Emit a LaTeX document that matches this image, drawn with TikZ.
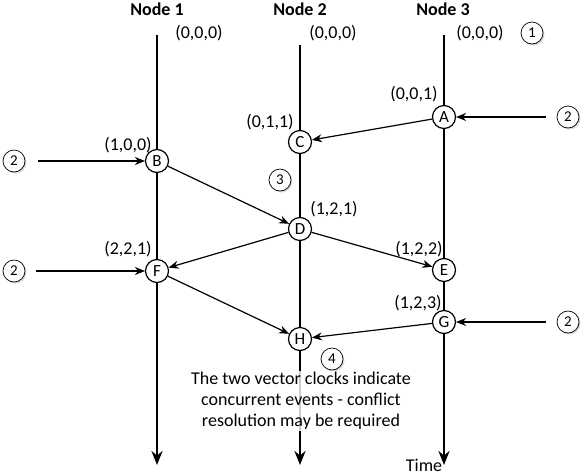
\documentclass[tikz,border=0pt]{standalone}
\usepackage{fontspec}
\setmainfont{Carlito}
\usetikzlibrary{arrows.meta,shadows}
\begin{document}
\begin{tikzpicture}[x=1pt,y=-1pt,
  timeline/.style={line width=2.6pt,-{Stealth[length=14pt,width=11pt]}},
  msg/.style={line width=1.2pt,-{Stealth[length=10pt,width=8pt]}},
  ev/.style={circle,draw,line width=1.2pt,fill=white,minimum size=23pt,inner sep=0pt,font=\fontsize{17}{19}\selectfont},
  num/.style={circle,draw,line width=0.7pt,fill=white,minimum size=22pt,inner sep=0pt,font=\fontsize{15}{17}\selectfont,drop shadow={shadow xshift=1.5pt,shadow yshift=-1.5pt,opacity=0.3}},
  lbl/.style={font=\fontsize{18}{20}\selectfont,inner sep=1pt},
  title/.style={font=\bfseries\fontsize{18}{20}\selectfont}]
\useasboundingbox (0,0) rectangle (587,475);
\fill[white] (0,0) rectangle (587,475);
% titles
\node[title] (t1) at (157,9) {Node 1};
\node[title] (t2) at (300,9) {Node 2};
\node[title] (t3) at (443,9) {Node 3};
% timeline coordinates
\coordinate (s1) at (157,35);
\coordinate (e1) at (157,465);
\coordinate (s2) at (300,45);
\coordinate (e2) at (300,465);
\coordinate (s3) at (444,35);
\coordinate (e3) at (444,465);
\draw[timeline] (s1) -- (e1);
\draw[timeline] (s2) -- (e2);
\draw[timeline] (s3) -- (e3);
% events
\node[ev] (A) at (444,117) {A};
\node[ev] (B) at (157,161) {B};
\node[ev] (C) at (300,142) {C};
\node[ev] (D) at (300,229) {D};
\node[ev] (E) at (444,270) {E};
\node[ev] (F) at (157,271) {F};
\node[ev] (G) at (444,322) {G};
\node[ev] (H) at (300,339) {H};
% external inputs
\node[num] (n2a) at (568,117) {2};
\node[num] (n2b) at (14,161) {2};
\node[num] (n2c) at (14,271) {2};
\node[num] (n2d) at (568,322) {2};
\node[num] (n1) at (532,33) {1};
\node[num] (n3) at (280,180) {3};
\node[num] (n4) at (332,359) {4};
\coordinate (iA) at (546,117);
\coordinate (iB) at (38,161);
\coordinate (iF) at (36,271);
\coordinate (iG) at (546,322);
\draw[msg] (iA) -- (A);
\draw[msg] (iB) -- (B);
\draw[msg] (iF) -- (F);
\draw[msg] (iG) -- (G);
% messages
\draw[msg] (A) -- (C);
\draw[msg] (B) -- (D);
\draw[msg] (D) -- (E);
\draw[msg] (D) -- (F);
\draw[msg] (F) -- (H);
\draw[msg] (G) -- (H);
% labels
\node[lbl] (l01) at (199,33) {(0,0,0)};
\node[lbl] (l02) at (333,33) {(0,0,0)};
\node[lbl] (l03) at (480,33) {(0,0,0)};
\node[lbl] (lA) at (414,94) {(0,0,1)};
\node[lbl] (lC) at (270,122) {(0,1,1)};
\node[lbl] (lB) at (128,145) {(1,0,0)};
\node[lbl] (lD) at (334,209) {(1,2,1)};
\node[lbl] (lE) at (419,249) {(1,2,2)};
\node[lbl] (lF) at (128,249) {(2,2,1)};
\node[lbl] (lG) at (418,303) {(1,2,3)};
\node[lbl] (time) at (424,465) {Time};
\node[lbl,align=center,fill=white,fill opacity=0.8,text opacity=1,font=\fontsize{18}{21}\selectfont] (note) at (301,401) {The two vector clocks indicate\\concurrent events - conflict\\resolution may be required};
\end{tikzpicture}
\end{document}
